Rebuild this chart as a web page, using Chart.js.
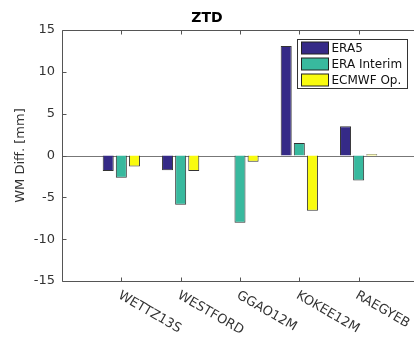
<!DOCTYPE html>
<html>
<head>
<meta charset="utf-8">
<script src="https://cdn.jsdelivr.net/npm/chart.js"></script>
<style>
  html, body { margin: 0; padding: 0; background: #fff; overflow: hidden; }
  canvas { display: block; }
</style>
</head>
<body>
<canvas id="chart" width="414" height="341"></canvas>
<script>
const stations = ['WETTZ13S', 'WESTFORD', 'GGAO12M', 'KOKEE12M', 'RAEGYEB'];
const era5 = [-1.85, -1.75, 0.0, 13.1, 3.5];
const eraInterim = [-2.65, -5.9, -8.05, 1.5, -3.0];
const ecmwfOp = [-1.3, -1.85, -0.75, -6.6, 0.15];
const yTicks = [-15, -10, -5, 0, 5, 10, 15];

const FONT = 'DejaVu Sans';
const AXIS = '#555';

const toPoints = arr => arr.map((v, i) => ({ x: i + 1, y: v }));

// box, inward ticks, zero baseline, rotated station names and legend
const matlabAxes = {
    id: 'matlabAxes',
    beforeDatasetsDraw(chart) {
        const { ctx, chartArea: a, scales: { y } } = chart;
        const y0 = Math.round(y.getPixelForValue(0)) + 0.5;
        ctx.save();
        ctx.strokeStyle = '#777';
        ctx.lineWidth = 1;
        ctx.beginPath();
        ctx.moveTo(a.left, y0);
        ctx.lineTo(a.right, y0);
        ctx.stroke();
        ctx.restore();
    },
    afterDraw(chart) {
        const { ctx, chartArea: a, scales: { x, y } } = chart;
        const L = Math.round(a.left) + 0.5, R = a.right;
        const T = Math.round(a.top) + 0.5, B = Math.round(a.bottom) + 0.5;
        ctx.save();
        ctx.strokeStyle = AXIS;
        ctx.lineWidth = 1;
        // right side of the box falls just off the canvas
        ctx.beginPath();
        ctx.moveTo(R, T); ctx.lineTo(L, T); ctx.lineTo(L, B); ctx.lineTo(R, B);
        yTicks.forEach(v => {
            const py = Math.round(y.getPixelForValue(v)) + 0.5;
            ctx.moveTo(L, py); ctx.lineTo(L + 4, py);
        });
        stations.forEach((s, i) => {
            const px = Math.round(x.getPixelForValue(i + 1)) + 0.5;
            ctx.moveTo(px, T); ctx.lineTo(px, T + 4);
            ctx.moveTo(px, B); ctx.lineTo(px, B - 4);
        });
        ctx.stroke();

        // station names, rotated clockwise
        ctx.fillStyle = '#333';
        ctx.font = '13px "' + FONT + '"';
        ctx.textAlign = 'left';
        ctx.textBaseline = 'top';
        stations.forEach((s, i) => {
            const px = x.getPixelForValue(i + 1);
            ctx.save();
            ctx.translate(px + 1, a.bottom + 8);
            ctx.rotate(Math.PI / 6);
            ctx.fillText(s, 0, 0);
            ctx.restore();
        });

        // legend
        const lx = 297.5, ly = 39.5, lw = 110, lh = 49;
        ctx.fillStyle = '#fff';
        ctx.fillRect(lx, ly, lw, lh);
        ctx.strokeStyle = '#333';
        ctx.strokeRect(lx, ly, lw, lh);
        ctx.font = '12px "' + FONT + '"';
        ctx.textBaseline = 'middle';
        chart.data.datasets.forEach((ds, i) => {
            const sy = ly + 2.5 + i * 16;
            ctx.fillStyle = ds.backgroundColor;
            ctx.fillRect(lx + 4, sy, 27, 12);
            ctx.strokeStyle = '#222';
            ctx.strokeRect(lx + 4, sy, 27, 12);
            ctx.fillStyle = '#111';
            ctx.fillText(ds.label, lx + 34, sy + 6.5);
        });
        ctx.restore();
    }
};

new Chart(document.getElementById('chart'), {
    type: 'bar',
    data: {
        datasets: [
            { label: 'ERA5', data: toPoints(era5), backgroundColor: '#352a87' },
            { label: 'ERA Interim', data: toPoints(eraInterim), backgroundColor: '#38b99e' },
            { label: 'ECMWF Op.', data: toPoints(ecmwfOp), backgroundColor: '#f9fb0e' }
        ]
    },
    options: {
        responsive: false,
        animation: false,
        layout: { padding: { left: 0, right: 0, top: 0, bottom: 60 } },
        datasets: {
            bar: {
                categoryPercentage: 0.663,
                barPercentage: 0.84,
                borderColor: '#333',
                borderWidth: 1
            }
        },
        scales: {
            x: {
                type: 'linear',
                display: false,
                offset: false,
                min: 0,
                // axis runs to 6, cut off a little past the canvas edge
                max: 5.933,
                ticks: { stepSize: 1 },
                afterBuildTicks(scale) {
                    scale.ticks = scale.ticks.filter(t => Number.isInteger(t.value));
                }
            },
            y: {
                min: -15,
                max: 15,
                ticks: {
                    stepSize: 5,
                    padding: 7,
                    color: '#333',
                    font: { family: FONT, size: 13 }
                },
                grid: { display: false, drawTicks: false },
                border: { display: false },
                title: {
                    display: true,
                    text: 'WM Diff. [mm]',
                    color: '#333',
                    font: { family: FONT, size: 13 },
                    padding: { top: 13, bottom: 0 }
                },
                afterFit(scale) { scale.width = 62; }
            }
        },
        plugins: {
            legend: { display: false },
            tooltip: { enabled: false },
            title: {
                display: true,
                text: 'ZTD',
                color: '#000',
                font: { family: FONT, size: 14, weight: 'bold' },
                padding: { top: 9.6, bottom: 3.6 }
            }
        }
    },
    plugins: [matlabAxes]
});
</script>
</body>
</html>
